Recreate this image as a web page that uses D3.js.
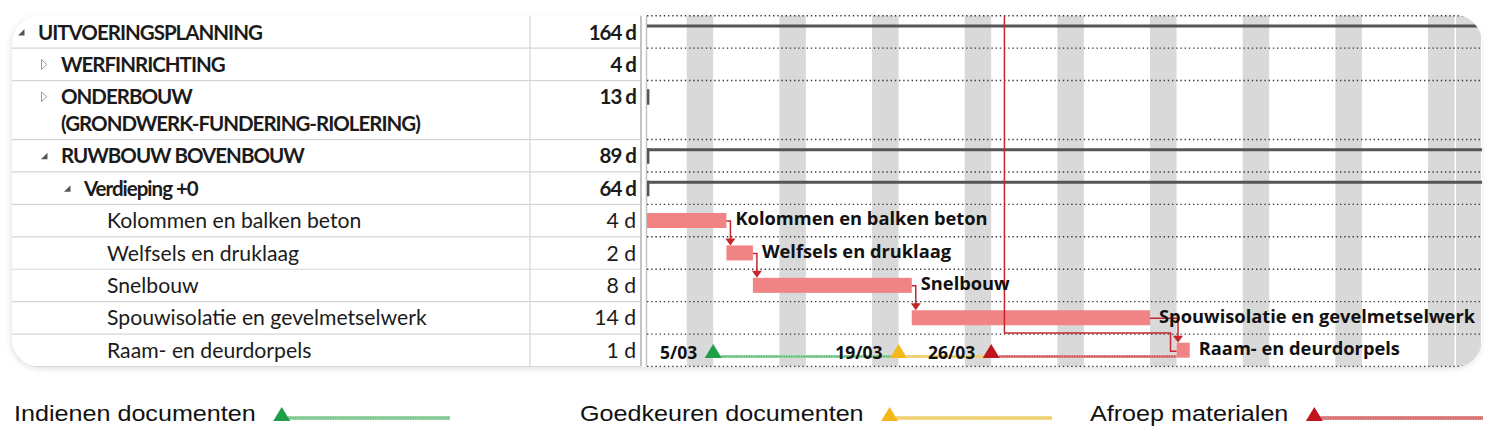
<!DOCTYPE html>
<html><head><meta charset="utf-8">
<script src="https://cdn.jsdelivr.net/npm/d3@7"></script>
<style>html,body{margin:0;padding:0;background:#fff;} svg{display:block}</style>
</head><body>
<svg id="c" width="1491" height="437"></svg>
<script>
// ---------------- DATA ----------------
const taskNames = [["UITVOERINGSPLANNING"],["WERFINRICHTING"],["ONDERBOUW","(GRONDWERK-FUNDERING-RIOLERING)"],["RUWBOUW BOVENBOUW"],["Verdieping +0"],["Kolommen en balken beton"],["Welfsels en druklaag"],["Snelbouw"],["Spouwisolatie en gevelmetselwerk"],["Raam- en deurdorpels"]];
const taskLevels = [0,1,1,1,2,3,3,3,3,3];
const taskDurations = ["164 d","4 d","13 d","89 d","64 d","4 d","2 d","8 d","14 d","1 d"];
const taskOutline = ["open","closed","closed","open","open","","","","",""];
const taskSummary = [true,true,true,true,true,false,false,false,false,false];
const taskStarts = ["2018-02-05","2018-02-05","2018-02-09","2018-02-28","2018-02-28","2018-02-28","2018-03-06","2018-03-08","2018-03-20","2018-04-09"];
const taskEnds   = ["2018-09-26","2018-02-09","2018-02-28","2018-07-04","2018-05-31","2018-03-06","2018-03-08","2018-03-20","2018-04-07","2018-04-10"];
const taskLinks = [[5,6],[6,7],[7,8],[8,9]];
const milestoneLabels = ["5/03","19/03","26/03"];
const milestoneDates  = ["2018-03-05","2018-03-19","2018-03-26"];
const milestoneUntil  = ["2018-03-19","2018-03-26","2018-04-09"];
const milestoneNames  = ["Indienen documenten","Goedkeuren documenten","Afroep materialen"];
const statusDate = "2018-03-27";
const holidays = ["2018-04-30","2018-05-01"];
const timeDomain = ["2018-02-28","2018-05-02"];

// ---------------- STYLE / LAYOUT ----------------
const rowSpans = [1,1,1.82,1,1,1,1,1,1,1];
const msColors = ["#1f9e48","#f4b81c","#c1151d"];
const msLineColors = ["#9ad6a8","#f3da88","#e08a8a"];
const msDotColors = ["#3aa957","#e2b640","#c33a3a"];
const card = {x:12, y:15.7, w:1470, h:350.8, r:28};
const tableRight = 640, durCol = 530, chartLeft = 647, chartRight = 1481;
const linkColor = "#c3262c";
const barColor = "#f08383";
const tableFont = "Lato, 'Open Sans', sans-serif";

const parse = d3.utcParse("%Y-%m-%d");
const svg = d3.select("#c");
const defs = svg.append("defs");
defs.append("clipPath").attr("id","cardClip").append("rect")
  .attr("x",card.x).attr("y",card.y-1).attr("width",card.w).attr("height",card.h+2).attr("rx",card.r);
defs.append("clipPath").attr("id","chartClip").append("rect")
  .attr("x",chartLeft).attr("y",card.y-1).attr("width",chartRight-chartLeft+2).attr("height",card.h+2);
const sh = defs.append("filter").attr("id","shadow").attr("x","-5%").attr("y","-10%").attr("width","110%").attr("height","125%");
sh.append("feDropShadow").attr("dx",-1).attr("dy",2).attr("stdDeviation",3).attr("flood-color","#000").attr("flood-opacity",0.12);

svg.append("rect").attr("x",card.x).attr("y",card.y).attr("width",card.w).attr("height",card.h)
  .attr("rx",card.r).attr("fill","#fff").attr("filter","url(#shadow)");

const root = svg.append("g").attr("clip-path","url(#cardClip)");

const cum = [0]; rowSpans.forEach((s,i)=>cum.push(cum[i]+s));
const yU = d3.scaleLinear().domain([0,cum[cum.length-1]]).range([card.y, card.y+card.h]);
const rowTop = i => yU(cum[i]);

const x = d3.scaleUtc().domain(timeDomain.map(parse)).range([chartLeft, chartRight]);

// ---------- TABLE ----------
const table = root.append("g");
for (let i=1;i<=taskNames.length;i++){
  const y = yU(cum[i]);
  table.append("line").attr("x1",card.x).attr("x2",tableRight).attr("y1",y).attr("y2",y)
    .attr("stroke","#d6d6d6").attr("stroke-width",1.2);
}
table.append("line").attr("x1",durCol).attr("x2",durCol).attr("y1",card.y).attr("y2",card.y+card.h).attr("stroke","#d6d6d6").attr("stroke-width",1.2);
table.append("line").attr("x1",tableRight+1).attr("x2",tableRight+1).attr("y1",card.y).attr("y2",card.y+card.h).attr("stroke","#c4c4c4").attr("stroke-width",2);
table.append("line").attr("x1",chartLeft-0.5).attr("x2",chartLeft-0.5).attr("y1",card.y).attr("y2",card.y+card.h).attr("stroke","#c4c4c4").attr("stroke-width",1.5);

function tText(g, bold){
  return g.append("text").attr("font-family",tableFont)
    .attr("font-size",bold?20.5:21.2).attr("font-weight",bold?700:400)
    .attr("letter-spacing",bold?-1:0).attr("fill","#1b1b1b");
}
taskNames.forEach((lines,i)=>{
  const tx = 38 + 23*taskLevels[i];
  const c0 = rowTop(i) + 16.3;
  const bold = taskSummary[i];
  lines.forEach((ln,k)=>{
    tText(table,bold).attr("x",tx).attr("y",c0 + 27*k + 7.5).text(ln);
  });
  tText(table,bold).attr("x",636).attr("y",c0+7.5).attr("text-anchor","end").text(taskDurations[i]);
  const mx = tx - 20;
  if (taskOutline[i]==="open"){
    table.append("path").attr("d",`M${mx},${c0+3.5}L${mx+6.5},${c0+3.5}L${mx+6.5},${c0-3}Z`).attr("fill","#555");
  } else if (taskOutline[i]==="closed"){
    table.append("path").attr("d",`M${mx+0.5},${c0-5}L${mx+5.5},${c0}L${mx+0.5},${c0+5}Z`).attr("fill","none").attr("stroke","#999").attr("stroke-width",1);
  }
});

// ---------- CHART ----------
const chart = root.append("g").attr("clip-path","url(#chartClip)");
const [d0,d1] = x.domain();
const sats = d3.utcSaturday.range(d3.utcDay.offset(d0,-7), d1);
chart.selectAll("rect.we").data(sats).join("rect").attr("class","we")
  .attr("x",d=>x(d)).attr("width",d=>x(d3.utcDay.offset(d,2))-x(d))
  .attr("y",card.y).attr("height",card.h).attr("fill","#d9d9d9");
const hol = holidays.map(parse);
chart.append("rect").attr("x",x(hol[0])+1.5).attr("width",x(d3.utcDay.offset(hol[hol.length-1],1))-x(hol[0])-1.5)
  .attr("y",card.y).attr("height",card.h).attr("fill","#d9d9d9");

for (let i=0;i<=taskNames.length;i++){
  const y = yU(cum[i]);
  chart.append("line").attr("x1",chartLeft).attr("x2",chartRight+2).attr("y1",y).attr("y2",y)
    .attr("stroke","#3a3a3a").attr("stroke-width",1.4).attr("stroke-dasharray","1.4,2.8");
}

taskNames.forEach((n,i)=>{
  if(!taskSummary[i]) return;
  const s = parse(taskStarts[i]), e = parse(taskEnds[i]);
  const y = rowTop(i)+10.3;
  const xs = Math.max(x(s), chartLeft), xe = Math.min(x(e), chartRight+5);
  if (xe > xs) chart.append("line").attr("x1",xs).attr("x2",xe).attr("y1",y).attr("y2",y).attr("stroke","#555").attr("stroke-width",3);
  [s,e].forEach(d=>{
    const xx = x(d);
    if (xx>=chartLeft-1 && xx<=chartRight){
      const xh = Math.max(xx+1.2, chartLeft+1.2);
      chart.append("line").attr("x1",xh).attr("x2",xh).attr("y1",y-1.5).attr("y2",y+14).attr("stroke","#555").attr("stroke-width",2.4);
    }
  });
});

const barTop = i => rowTop(i)+8.6, barH = 15, barMid = i => barTop(i)+barH/2;
const leaf = d3.range(taskNames.length).filter(i=>!taskSummary[i]);
chart.selectAll("rect.bar").data(leaf).join("rect").attr("class","bar")
  .attr("x",i=>x(parse(taskStarts[i]))).attr("width",i=>x(parse(taskEnds[i]))-x(parse(taskStarts[i])))
  .attr("y",i=>barTop(i)).attr("height",barH).attr("fill",barColor);

const raam = 9, xr = x(parse(taskStarts[raam]));
chart.append("path").attr("d",`M${x(parse(statusDate))},${card.y}V${rowTop(raam)-1}H${xr-6}V${barMid(raam)+1}H${xr}`)
  .attr("fill","none").attr("stroke",linkColor).attr("stroke-width",1.5);

taskLinks.forEach(([a,b])=>{
  const xa = x(parse(taskEnds[a])), xb = x(parse(taskStarts[b]));
  const ax = Math.max(xa+4, xb+1.5);
  const ya = barMid(a)+0.5, yb = barTop(b);
  chart.append("path").attr("d",`M${xa},${ya}H${ax}V${yb-5}`).attr("fill","none").attr("stroke",linkColor).attr("stroke-width",1.5);
  chart.append("path").attr("d",`M${ax-5},${yb-7}L${ax+5},${yb-7}L${ax},${yb}Z`).attr("fill",linkColor);
});

chart.selectAll("text.bl").data(leaf).join("text").attr("class","bl")
  .attr("x",i=>x(parse(taskEnds[i]))+9).attr("y",i=>barMid(i)+5)
  .attr("font-family","'Open Sans', sans-serif").attr("font-weight",700).attr("font-size",18.3)
  .attr("fill","#111").text(i=>taskNames[i][0]);

const msBase = rowTop(raam)+24;
milestoneDates.forEach((d,k)=>{
  const xm = x(parse(d)), xu = x(parse(milestoneUntil[k]));
  chart.append("line").attr("x1",xm+8).attr("x2",xu).attr("y1",msBase-1.5).attr("y2",msBase-1.5)
    .attr("stroke",msLineColors[k]).attr("stroke-width",3);
  chart.append("line").attr("x1",xm+8).attr("x2",xu).attr("y1",msBase-1.5).attr("y2",msBase-1.5)
    .attr("stroke",msDotColors[k]).attr("stroke-width",1.5).attr("stroke-dasharray","1,1.5");
  chart.append("path").attr("d",`M${xm-8.5},${msBase}L${xm+8.5},${msBase}L${xm},${msBase-14}Z`).attr("fill",msColors[k]);
  chart.append("text").attr("x",xm-16).attr("y",msBase+1).attr("text-anchor","end")
    .attr("font-family","'Open Sans', sans-serif").attr("font-weight",700).attr("font-size",17.5)
    .attr("fill","#111").text(milestoneLabels[k]);
});

// ---------- LEGEND ----------
const legX = [14, 580, 1090], legEnd = [450, 1052, 1483], legBase = 421, legStretch = 1.17;
const legend = svg.append("g");
milestoneNames.forEach((nm,k)=>{
  const t = legend.append("text").attr("x",0).attr("y",0)
    .attr("font-family","'Liberation Sans', Arial, sans-serif").attr("font-size",21.5).attr("fill","#111").text(nm);
  t.attr("transform",`translate(${legX[k]},${legBase}) scale(${legStretch},1)`);
  const w = t.node().getComputedTextLength()*legStretch;
  const tc = legX[k] + w + 26;
  legend.append("line").attr("x1",tc+6).attr("x2",legEnd[k]).attr("y1",legBase-3).attr("y2",legBase-3)
    .attr("stroke",msLineColors[k]).attr("stroke-width",4);
  legend.append("line").attr("x1",tc+6).attr("x2",legEnd[k]).attr("y1",legBase-3).attr("y2",legBase-3)
    .attr("stroke",msDotColors[k]).attr("stroke-width",2).attr("stroke-dasharray","1,1.5").attr("opacity",0.6);
  legend.append("path").attr("d",`M${tc-8.5},${legBase}L${tc+8.5},${legBase}L${tc},${legBase-14}Z`).attr("fill",msColors[k]);
});
</script>
</body></html>
